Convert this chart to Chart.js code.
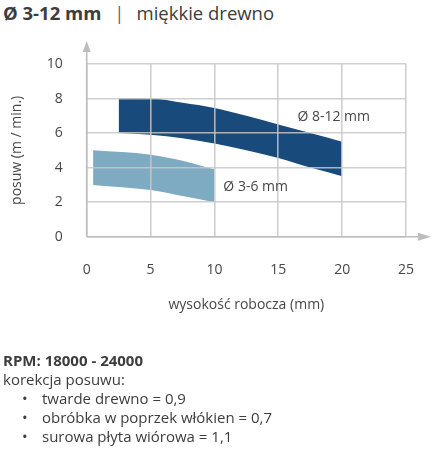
<html>
<head>
<meta charset="UTF-8">
<script src="https://cdn.jsdelivr.net/npm/chart.js"></script>
<style>
  body { margin: 0; width: 439px; height: 450px; background: #fff; position: relative; overflow: hidden;
         font-family: "Open Sans", sans-serif; color: #3d3d3d; }
  #chart { position: absolute; left: 0; top: 0; }
  .head { position: absolute; left: 3px; top: 3px; font-size: 18.5px; line-height: 19px; white-space: nowrap; }
  .head b { font-weight: 700; }
  .head .sep { color: #666; margin: 0 12px 0 13px; }
  .notes { position: absolute; left: 3px; top: 351px; font-size: 15px; line-height: 19px; white-space: nowrap; }
  .notes b { font-weight: 700; }
  .notes .li { position: relative; padding-left: 39px; }
  .notes .li::before { content: "\2022"; position: absolute; left: 19px; }
</style>
</head>
<body>
<div class="head"><b>Ø 3-12 mm</b><span class="sep">|</span>miękkie drewno</div>
<canvas id="chart" width="439" height="450"></canvas>
<div class="notes">
  <div><b>RPM: 18000 - 24000</b></div>
  <div>korekcja posuwu:</div>
  <div class="li">twarde drewno = 0,9</div>
  <div class="li">obróbka w poprzek włókien = 0,7</div>
  <div class="li">surowa płyta wiórowa = 1,1</div>
</div>
<script>
// band Ø 8-12 mm
const bigX = [2.5, 5, 7.5, 10, 12.5, 15, 17.5, 20];
const bigTop = [8.0, 8.0, 7.75, 7.45, 7.0, 6.5, 6.0, 5.5];
const bigBottom = [6.0, 5.9, 5.7, 5.4, 5.0, 4.55, 4.0, 3.5];

// band Ø 3-6 mm
const smallX = [0.5, 5, 7.5, 10];
const smallTop = [5.0, 4.75, 4.4, 3.9];
const smallBottom = [3.0, 2.7, 2.35, 2.0];

const xTicks = [0, 5, 10, 15, 20, 25];
const yTicks = [0, 2, 4, 6, 8, 10];

const bandNames = ['Ø 8-12 mm', 'Ø 3-6 mm'];
// where the band names sit, in data units
const nameAt = [[16.5, 6.95], [10.7, 2.9]];

const darkBlue = '#184a7b';
const lightBlue = '#7eaac2';
const gridGrey = 'rgba(200,200,200,0.85)';
const textGrey = '#474747';

function pts(xs, ys) {
  return xs.map((x, i) => ({ x: x, y: ys[i] }));
}

function band(xs, ys, color, fill) {
  return {
    data: pts(xs, ys),
    borderWidth: 0,
    pointRadius: 0,
    backgroundColor: color,
    fill: fill,
    cubicInterpolationMode: 'monotone'
  };
}

const arrows = {
  id: 'arrows',
  afterDraw(chart) {
    const { ctx, chartArea: a } = chart;
    ctx.save();
    ctx.strokeStyle = '#bdbdbd';
    ctx.fillStyle = '#bdbdbd';
    ctx.lineWidth = 1.6;
    ctx.beginPath();
    ctx.moveTo(a.left, a.bottom);
    ctx.lineTo(a.left, a.top - 16);
    ctx.moveTo(a.left, a.bottom);
    ctx.lineTo(a.right + 14, a.bottom);
    ctx.stroke();
    ctx.beginPath();
    ctx.moveTo(a.left, a.top - 23);
    ctx.lineTo(a.left - 4, a.top - 12);
    ctx.lineTo(a.left + 4, a.top - 12);
    ctx.closePath();
    ctx.fill();
    ctx.beginPath();
    ctx.moveTo(a.right + 25, a.bottom);
    ctx.lineTo(a.right + 12, a.bottom - 4);
    ctx.lineTo(a.right + 12, a.bottom + 4);
    ctx.closePath();
    ctx.fill();

    // band names
    const xs = chart.scales.x, ys = chart.scales.y;
    ctx.fillStyle = textGrey;
    ctx.font = '14px "Open Sans"';
    ctx.textAlign = 'left';
    ctx.textBaseline = 'middle';
    bandNames.forEach((t, i) => {
      ctx.fillText(t, xs.getPixelForValue(nameAt[i][0]), ys.getPixelForValue(nameAt[i][1]));
    });
    ctx.restore();
  }
};

new Chart(document.getElementById('chart'), {
  type: 'line',
  data: {
    datasets: [
      band(bigX, bigTop, darkBlue, '+1'),
      band(bigX, bigBottom, darkBlue, false),
      band(smallX, smallTop, lightBlue, '+1'),
      band(smallX, smallBottom, lightBlue, false)
    ]
  },
  options: {
    responsive: false,
    animation: false,
    layout: { padding: { top: 64, right: 30.7, bottom: 133.3, left: 0 } },
    plugins: { legend: { display: false }, tooltip: { enabled: false } },
    scales: {
      x: {
        type: 'linear',
        min: 0, max: 25,
        afterBuildTicks: s => { s.ticks = xTicks.map(v => ({ value: v })); },
        afterFit: s => { s.height = 80; },
        grid: { color: gridGrey, lineWidth: 1.6, drawTicks: false, z: 1 },
        border: { display: false },
        ticks: { padding: 25, color: textGrey, font: { family: 'Open Sans', size: 14 } },
        title: {
          display: true, text: 'wysokość robocza (mm)', color: textGrey,
          font: { family: 'Open Sans', size: 14 }, padding: { top: 0, bottom: 3 }
        }
      },
      y: {
        min: 0, max: 10,
        afterBuildTicks: s => { s.ticks = yTicks.map(v => ({ value: v })); },
        afterFit: s => { s.width = 86.7; },
        grid: { color: gridGrey, lineWidth: 1.6, drawTicks: false, z: 1 },
        border: { display: false },
        ticks: { padding: 24, color: textGrey, font: { family: 'Open Sans', size: 14 } },
        title: {
          display: true, text: 'posuw (m / min.)', color: textGrey,
          font: { family: 'Open Sans', size: 14 }, padding: { top: 9, bottom: 0 }
        }
      }
    }
  },
  plugins: [arrows]
});
</script>
</body>
</html>
